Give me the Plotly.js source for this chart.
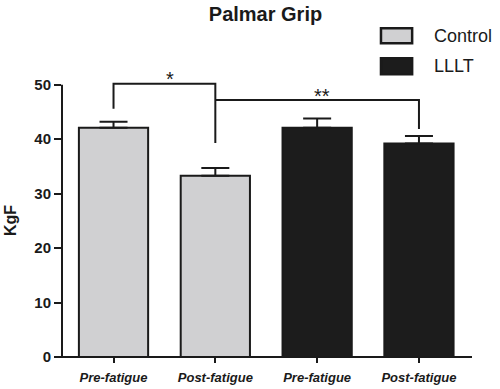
<!DOCTYPE html>
<html>
<head>
<meta charset="utf-8">
<script src="https://cdn.plot.ly/plotly-3.0.1.min.js"></script>
<style>html,body{margin:0;padding:0;background:#fff;}#chart{width:500px;height:389px;}</style>
</head>
<body>
<div id="chart"></div>
<script>
// ---- data ----
var tickLabels = ["Pre-fatigue", "Post-fatigue", "Pre-fatigue", "Post-fatigue"];
var controlX = [0, 1];
var controlMeans = [42.1, 33.3];
var controlErr = [1.1, 1.4];
var lllTX = [2, 3];
var lllTMeans = [42.1, 39.2];
var lllTErr = [1.7, 1.4];
var seriesNames = ["Control", "LLLT"];
// significance brackets
var bracketFrom = [0, 1];
var bracketTo = [1, 3];
var bracketTop = [50.2, 47.2];
var bracketLeftBottom = [45.6, 47.2];
var bracketRightBottom = [39.3, 41.9];
var bracketLabels = ["*", "**"];
var bracketLabelY = [51.1, 48.0];

var FONT = "Liberation Sans, Arial, Helvetica, sans-serif";
var INK = "#1a1a1a";
var GREY = "#d0d0d2";
var DARK = "#1c1c1c";

var traces = [
  {
    type: "bar", name: seriesNames[0], x: controlX, y: controlMeans, width: 0.68,
    marker: {color: GREY, line: {color: INK, width: 2}},
    error_y: {type: "data", array: controlErr, arrayminus: [0, 0], symmetric: false,
              color: INK, thickness: 2, width: 14},
    showlegend: false, hoverinfo: "y"
  },
  {
    type: "bar", name: seriesNames[1], x: lllTX, y: lllTMeans, width: 0.68,
    marker: {color: DARK, line: {color: INK, width: 2}},
    error_y: {type: "data", array: lllTErr, arrayminus: [0, 0], symmetric: false,
              color: INK, thickness: 2, width: 14},
    showlegend: false, hoverinfo: "y"
  }
];

var shapes = [];
var annotations = [];
var lineStyle = {color: INK, width: 2};

// axis lines
shapes.push({type: "line", xref: "paper", yref: "y", x0: 0, x1: 0, y0: 0, y1: 50, line: lineStyle});
shapes.push({type: "line", xref: "paper", yref: "paper", x0: -0.017, x1: 1, y0: 0, y1: 0, line: lineStyle});

// brackets drawn as line traces on the data axes
for (var i = 0; i < bracketFrom.length; i++) {
  var bx0 = bracketFrom[i], bx1 = bracketTo[i], byTop = bracketTop[i];
  traces.push({
    type: "scatter", mode: "lines",
    x: [bx0, bx0, bx1, bx1], y: [bracketLeftBottom[i], byTop, byTop, bracketRightBottom[i]],
    line: {color: INK, width: 2}, showlegend: false, hoverinfo: "skip"
  });
  annotations.push({
    xref: "x", yref: "y", x: (bx0 + bx1) / 2 + 0.05, y: bracketLabelY[i], text: bracketLabels[i],
    showarrow: false, xanchor: "center", yanchor: "middle",
    font: {family: FONT, size: 20, color: INK}
  });
}

// legend (drawn manually to match the wide swatches)
var legendColors = [GREY, DARK];
var legendBoxY = [[1.067, 1.118], [0.962, 1.016]];
var legendTextY = [1.0925, 0.9888];
for (var j = 0; j < seriesNames.length; j++) {
  shapes.push({type: "rect", xref: "paper", yref: "paper", x0: 0.778, x1: 0.854,
               y0: legendBoxY[j][0], y1: legendBoxY[j][1],
               fillcolor: legendColors[j], line: {color: INK, width: 2.5}});
  annotations.push({xref: "paper", yref: "paper", x: 0.902, y: legendTextY[j],
                    text: seriesNames[j], showarrow: false, xanchor: "left", yanchor: "middle",
                    font: {family: FONT, size: 18, color: INK}});
}

// y axis title
annotations.push({xref: "paper", yref: "y", x: -0.124, y: 25, text: "<b>KgF</b>", textangle: -90,
                  showarrow: false, xanchor: "center", yanchor: "middle",
                  font: {family: FONT, size: 16, color: INK}});

var layout = {
  width: 500, height: 389,
  margin: {l: 62, r: 28, t: 63, b: 32, pad: 0},
  paper_bgcolor: "#fff", plot_bgcolor: "#fff",
  barmode: "overlay",
  title: {text: "<b>Palmar Grip</b>", x: 0.531, xref: "container", xanchor: "center",
          y: 0.964, yref: "container", yanchor: "middle",
          font: {family: FONT, size: 20, color: INK}},
  xaxis: {
    range: [-0.506, 3.521], tickvals: [0, 1, 2, 3], ticktext: tickLabels,
    ticks: "outside", ticklen: 5, tickwidth: 2, tickcolor: INK, ticklabelstandoff: 3,
    showline: false, showgrid: false, zeroline: false,
    tickfont: {family: FONT, size: 13, color: INK, weight: "bold", style: "italic"}
  },
  yaxis: {
    range: [0, 54], tickvals: [0, 10, 20, 30, 40, 50],
    ticks: "outside", ticklen: 7, tickwidth: 2, tickcolor: INK,
    showline: false, showgrid: false, zeroline: false,
    tickfont: {family: FONT, size: 15, color: INK, weight: "bold"}
  },
  shapes: shapes,
  annotations: annotations,
  showlegend: false
};

Plotly.newPlot("chart", traces, layout, {displayModeBar: false, staticPlot: true});
</script>
</body>
</html>
